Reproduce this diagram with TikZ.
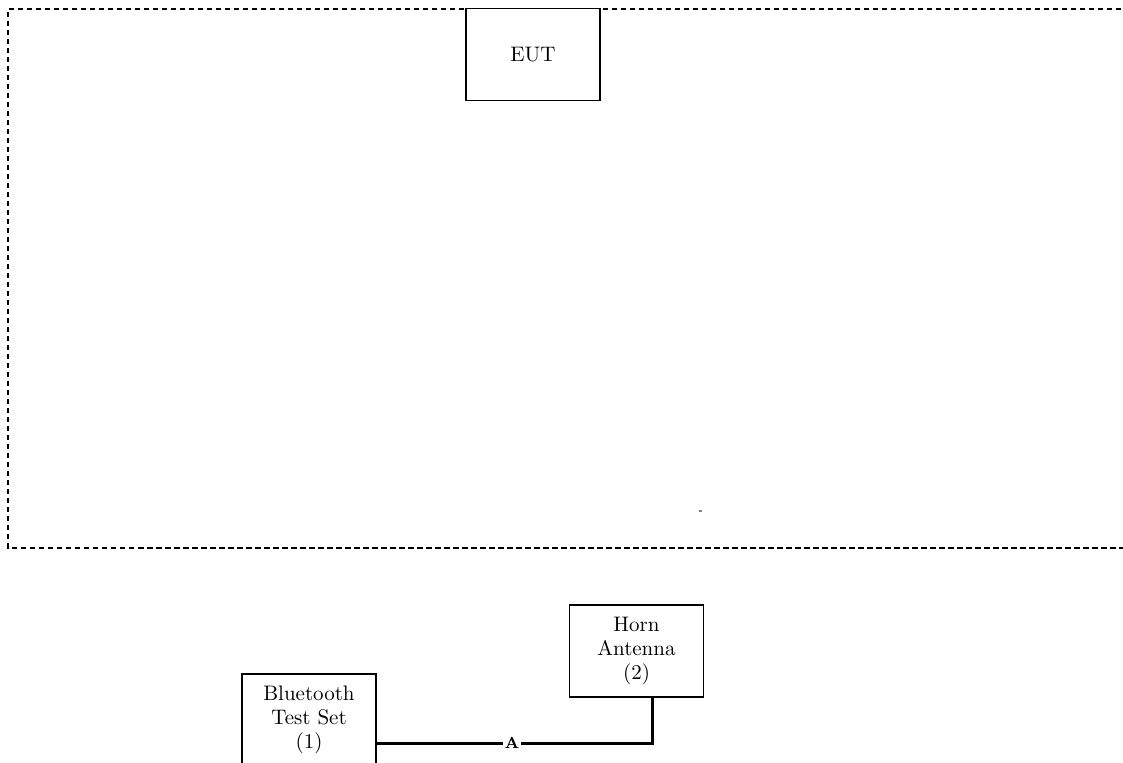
\documentclass[tikz,border=0pt]{standalone}
\usepackage{tikz}

\tikzset{
  unit/.style={draw, fill=white, line width=0.7pt, minimum width=67pt,
    minimum height=46pt, align=center, inner sep=0pt,
    font=\fontsize{10.5}{12}\selectfont},
  cable/.style={line width=1.5pt},
  cablelabel/.style={fill=white, inner sep=1pt, font=\footnotesize\bfseries}
}

\begin{document}
\begin{tikzpicture}[x=0.5pt, y=-0.5pt]
  % ramka
  \clip (0,0) rectangle (1123,763);
  \fill[white] (0,0) rectangle (1123,763);

  % strefa pomiarowa
  \draw[line width=0.75pt, dash pattern=on 2.75pt off 1.75pt]
    (1130,9) -- (8,9) -- (8,548) -- (1130,548);
  \fill[gray] (699,510) rectangle (702,512);

  % urzadzenia
  \node[unit] (eut)   at (533,54.5) {EUT};
  \node[unit] (horn)  at (636.5,651) {Horn\\Antenna\\(2)};
  \node[unit] (btset) at (309,720) {Bluetooth\\Test Set\\(1)};

  % kabel A
  \coordinate (bend) at (652,743);
  \draw[cable] (btset.east |- bend) -- (bend) -- (bend |- horn.south);
  \node[cablelabel] (lblA) at (512,743) {A};
\end{tikzpicture}
\end{document}
